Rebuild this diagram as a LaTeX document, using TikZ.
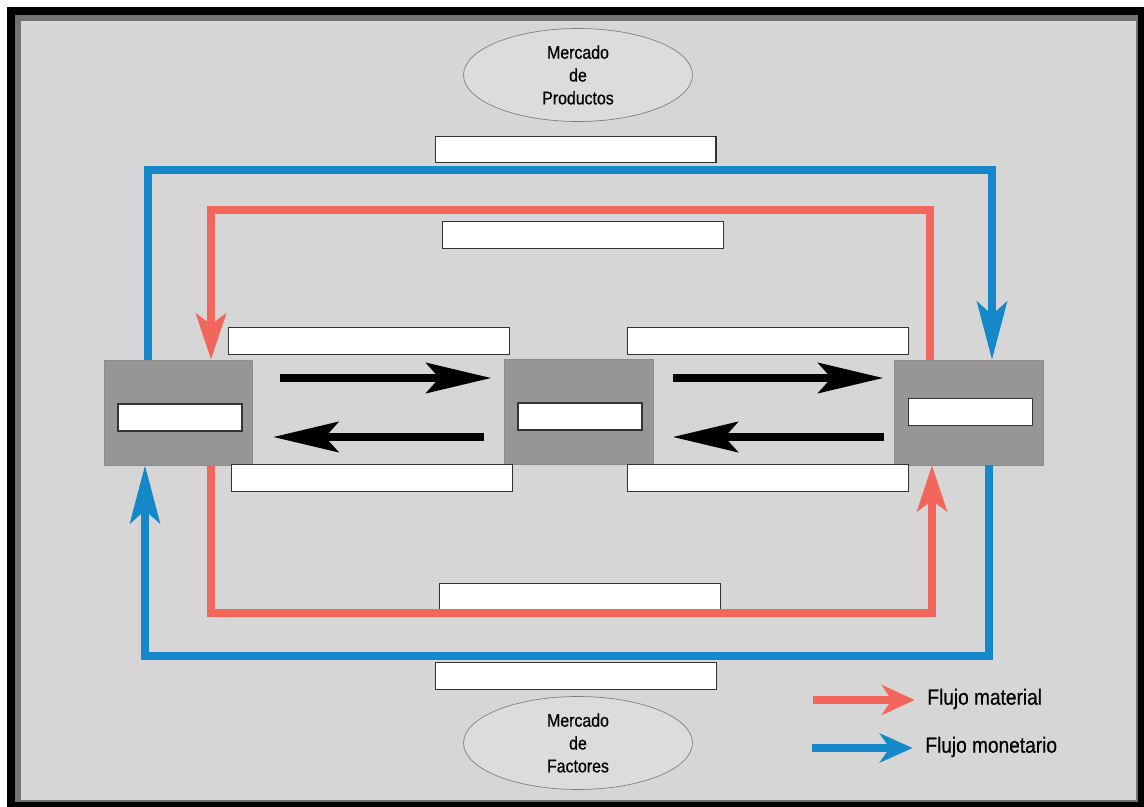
\documentclass[tikz,border=0pt]{standalone}
\usepackage{fontspec}
\setmainfont{Liberation Sans}[FakeStretch=0.87, FakeBold=0.6]
\usetikzlibrary{arrows.meta,shapes.geometric}
\definecolor{fondo}{RGB}{214,214,214}
\definecolor{elipse}{RGB}{220,220,220}
\definecolor{bloque}{RGB}{150,150,150}
\definecolor{rojo}{RGB}{242,102,92}
\definecolor{azul}{RGB}{20,136,200}
\tikzset{
  caja/.style={draw=black!80, fill=white, line width=0.6pt, inner sep=0pt,
    minimum width=5.62cm, minimum height=0.53cm},
  cajita/.style={caja, minimum width=2.48cm, minimum height=0.54cm},
  sector/.style={draw=black!45, fill=bloque, line width=0.4pt, inner sep=0pt,
    minimum width=2.97cm, minimum height=2.1cm},
  mercado/.style={ellipse, draw=black!50, fill=elipse, line width=0.4pt,
    inner sep=0pt, minimum width=4.58cm, minimum height=1.86cm, align=center,
    font=\fontsize{10.4}{13}\selectfont},
  flujorojo/.style={draw=rojo, line width=4.2pt, line join=miter,
    -{Stealth[length=0.92cm, width=0.6cm, inset=0.22cm]}},
  flujoazul/.style={draw=azul, line width=4.2pt, line join=miter,
    -{Stealth[length=1.16cm, width=0.6cm, inset=0.26cm]}},
  flujonegro/.style={draw=black, line width=5pt,
    -{Stealth[length=1.3cm, width=0.6cm, inset=0.26cm]}},
  leyenda/.style={anchor=west, inner sep=0pt, font=\fontsize{12.5}{15}\selectfont}
}
\begin{document}
\begin{tikzpicture}[x=0.02cm, y=-0.02cm]
  \useasboundingbox (0,0) rectangle (1144,807);
  % marco
  \fill[black] (7,7) rectangle (1144,807);
  \fill[black!55] (15,15) rectangle (1138,802);
  \fill[fondo] (21,21) rectangle (1136,800);

  % mercados
  \node[mercado] (prod) at (578,75) {Mercado\\de\\Productos};
  \node[mercado] (fact) at (578,743) {Mercado\\de\\Factores};

  % sectores
  \node[sector] (izq) at (178.5,412.5) {};
  \node[sector] (med) at (579,411.5) {};
  \node[sector] (der) at (969,412.5) {};
  \node[cajita] (izqc) at (180,417.5) {};
  \node[cajita] (medc) at (580,416.5) {};
  \node[cajita] (derc) at (970.5,412) {};

  % casillas
  \node[caja] (cA) at (575.5,149.5) {};
  \node[caja] (cB) at (583,235) {};
  \node[caja] (cC) at (369,341) {};
  \node[caja] (cD) at (768,341) {};
  \node[caja] (cE) at (372,478) {};
  \node[caja] (cF) at (768,478) {};
  \node[caja] (cG) at (580,597) {};
  \node[caja] (cH) at (576,676) {};

  % esquinas de los circuitos
  \coordinate (azNO) at (148,170);
  \coordinate (azNE) at (992,170);
  \coordinate (roNO) at (211,210);
  \coordinate (roNE) at (930,210);
  \coordinate (roSO) at (211,613);
  \coordinate (roSE) at (932,613);
  \coordinate (azSO) at (145,656);
  \coordinate (azSE) at (989,656);

  \draw[flujoazul] (izq.north -| azNO) -- (azNO) -- (azNE) -- (der.north -| azNE);
  \draw[flujorojo] (der.north -| roNE) -- (roNE) -- (roNO) -- (izq.north -| roNO);
  \draw[flujorojo] (izq.south -| roSO) -- (roSO) -- (roSE) -- (der.south -| roSE);
  \draw[flujoazul] (der.south -| azSE) -- (azSE) -- (azSO) -- (izq.south -| azSO);

  % flechas entre sectores
  \draw[flujonegro] ([shift={(27,-34.5)}]izq.east) -- ([shift={(-13,-33.5)}]med.west);
  \draw[flujonegro] ([shift={(-20,25.5)}]med.west) -- ([shift={(20,24.5)}]izq.east);
  \draw[flujonegro] ([shift={(19,-33.5)}]med.east) -- ([shift={(-11,-34.5)}]der.west);
  \draw[flujonegro] ([shift={(-10,24.5)}]der.west) -- ([shift={(19,25.5)}]med.east);

  % leyenda
  \node[leyenda] (leyR) at (927,699) {Flujo material};
  \node[leyenda] (leyA) at (925,747) {Flujo monetario};
  \coordinate (leyRi) at (813,700);
  \coordinate (leyAi) at (812,748);
  \draw[draw=rojo, line width=4.2pt, -{Stealth[length=0.66cm, width=0.6cm, inset=0.2cm]}]
    (leyRi) -- ([xshift=-7]leyR.west |- leyRi);
  \draw[draw=azul, line width=4.2pt, -{Stealth[length=0.66cm, width=0.58cm, inset=0.2cm]}]
    (leyAi) -- ([xshift=-7]leyA.west |- leyAi);
\end{tikzpicture}
\end{document}
